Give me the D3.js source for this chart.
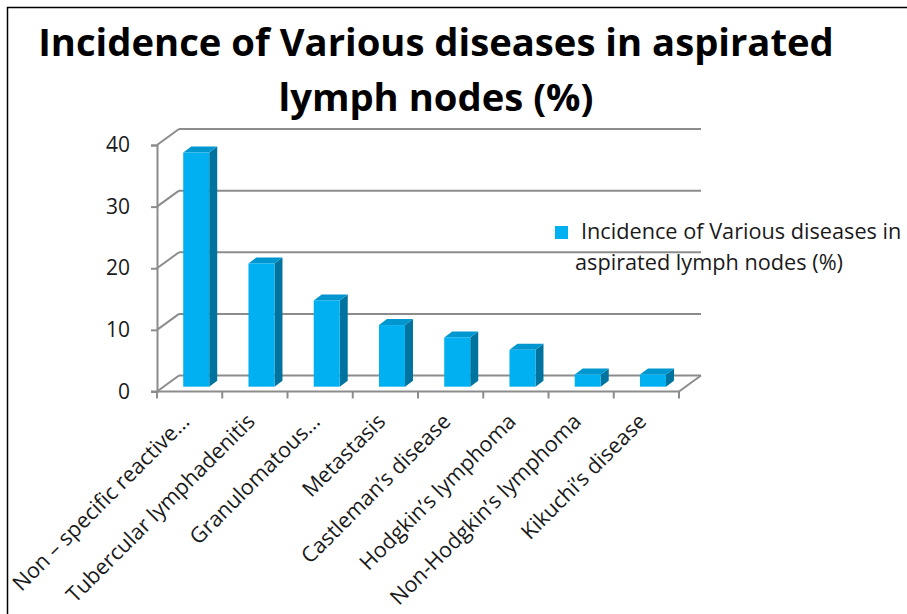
<!DOCTYPE html>
<html>
<head>
<meta charset="utf-8">
<script src="https://cdnjs.cloudflare.com/ajax/libs/d3/7.8.5/d3.min.js"></script>
<style>
  body { margin: 0; background: #fff; }
  svg { display: block; font-family: "Open Sans", "Liberation Sans", sans-serif; }
</style>
</head>
<body>
<svg class="chart"></svg>
<script>

var categories = ["Non \u2013 specific reactive\u2026", "Tubercular lymphadenitis", "Granulomatous\u2026",
  "Metastasis", "Castleman\u2019s disease", "Hodgkin\u2019s lymphoma", "Non-Hodgkin\u2019s lymphoma", "Kikuchi\u2019s disease"];
var values = [38, 20, 14, 10, 8, 6, 2, 2];
var yTicks = [0, 10, 20, 30, 40];
var titleLines = ["Incidence of Various diseases in aspirated", "lymph nodes (%)"];
var legendLines = ["Incidence of Various diseases in", "aspirated lymph nodes (%)"];

var W = 907, H = 614;
var svg = d3.select(".chart").attr("width", W).attr("height", H);

// frame (only top and left edges show in the picture)
svg.append("path").attr("d", "M7.5," + H + "V7.5H" + W)
  .attr("fill", "none").attr("stroke", "#000").attr("stroke-width", 1.5);

// title
var title = svg.append("text").attr("text-anchor", "middle")
  .style("font-weight", "bold").style("fill", "#000");
title.selectAll("tspan").data(titleLines).enter().append("tspan")
  .attr("x", 436).attr("y", function(d, i) { return 56 + i * 55; })
  .text(function(d) { return d; });
title.style("font-size", "40px");
var tw = title.select("tspan").node().getComputedTextLength();
title.style("font-size", (40 * 796 / tw) + "px");

// geometry
var left = 157, right = 679;
var dx = 22, dy = -16;

var x = d3.scaleBand().domain(categories).range([left, right]);
var y = d3.scaleLinear().domain([0, 40]).range([391.5, 145]);

var grid = "#8c8c8c";
var g = svg.append("g");

// back wall gridlines + left wall diagonals
yTicks.forEach(function(v) {
  g.append("line").attr("x1", left + dx).attr("x2", right + dx)
    .attr("y1", y(v) + dy).attr("y2", y(v) + dy);
  g.append("line").attr("x1", left).attr("x2", left + dx)
    .attr("y1", y(v)).attr("y2", y(v) + dy);
});
// floor right edge
g.append("line").attr("x1", right).attr("x2", right + dx)
  .attr("y1", y(0)).attr("y2", y(0) + dy);
g.selectAll("line").attr("stroke", grid).attr("stroke-width", 2);

// y axis
var yAxis = d3.axisLeft(y).tickValues(yTicks).tickSize(6).tickPadding(21);
var ya = svg.append("g").attr("transform", "translate(" + left + ",0)").call(yAxis);
ya.select(".domain").attr("stroke", grid).attr("stroke-width", 2);
ya.selectAll(".tick line").attr("stroke", grid).attr("stroke-width", 2);
ya.selectAll(".tick text").style("font-size", "21px").style("fill", "#1a1a1a")
  .style("font-family", "Open Sans");

// x axis line and ticks at band edges
var xa = svg.append("g");
xa.append("line").attr("x1", left - 6).attr("x2", right).attr("y1", y(0)).attr("y2", y(0))
  .attr("stroke", grid).attr("stroke-width", 2);
var edges = categories.map(function(c) { return x(c); }).concat([right]);
xa.selectAll(".xt").data(edges).enter().append("line")
  .attr("x1", function(d) { return d; }).attr("x2", function(d) { return d; })
  .attr("y1", y(0)).attr("y2", y(0) + 7)
  .attr("stroke", grid).attr("stroke-width", 2);

// x labels
xa.selectAll(".xl").data(categories).enter().append("text")
  .attr("transform", function(d) {
    return "translate(" + (x(d) + x.bandwidth() / 2 - 4) + "," + (y(0) + 26) + ") rotate(-45)";
  })
  .attr("text-anchor", "end").attr("dy", "0.35em")
  .style("font-size", "21.5px").style("fill", "#1a1a1a")
  .text(function(d) { return d; });

// 3d bars
var bw = 26, f = 0.3, bdx = 8, bdy = -6;
var bar = svg.selectAll(".bar").data(values).enter().append("g")
  .attr("transform", function(d, i) {
    return "translate(" + (x(categories[i]) + x.bandwidth() / 2 + f * dx - bw / 2) + "," + (f * dy) + ")";
  });
// side face
bar.append("path").attr("fill", "#00739f")
  .attr("d", function(d) {
    return "M" + bw + "," + y(d) + "L" + (bw + bdx) + "," + (y(d) + bdy) +
      "L" + (bw + bdx) + "," + (y(0) + bdy) + "L" + bw + "," + y(0) + "Z";
  });
// top face
bar.append("path").attr("fill", "#0096cf")
  .attr("d", function(d) {
    return "M0," + y(d) + "L" + bdx + "," + (y(d) + bdy) + "L" + (bw + bdx) + "," + (y(d) + bdy) +
      "L" + bw + "," + y(d) + "Z";
  });
// front face
bar.append("rect").attr("fill", "#00b0f0")
  .attr("x", 0).attr("width", bw)
  .attr("y", function(d) { return y(d); })
  .attr("height", function(d) { return y(0) - y(d); });

// legend
var lg = svg.append("g");
lg.append("rect").attr("x", 555).attr("y", 226).attr("width", 13).attr("height", 13)
  .attr("fill", "#00b0f0");
lg.append("text").attr("x", 581).attr("y", 239).style("font-size", "21.7px").style("fill", "#1a1a1a")
  .text(legendLines[0]);
lg.append("text").attr("x", 575).attr("y", 270).style("font-size", "21.7px").style("fill", "#1a1a1a")
  .text(legendLines[1]);

</script>
</body>
</html>
